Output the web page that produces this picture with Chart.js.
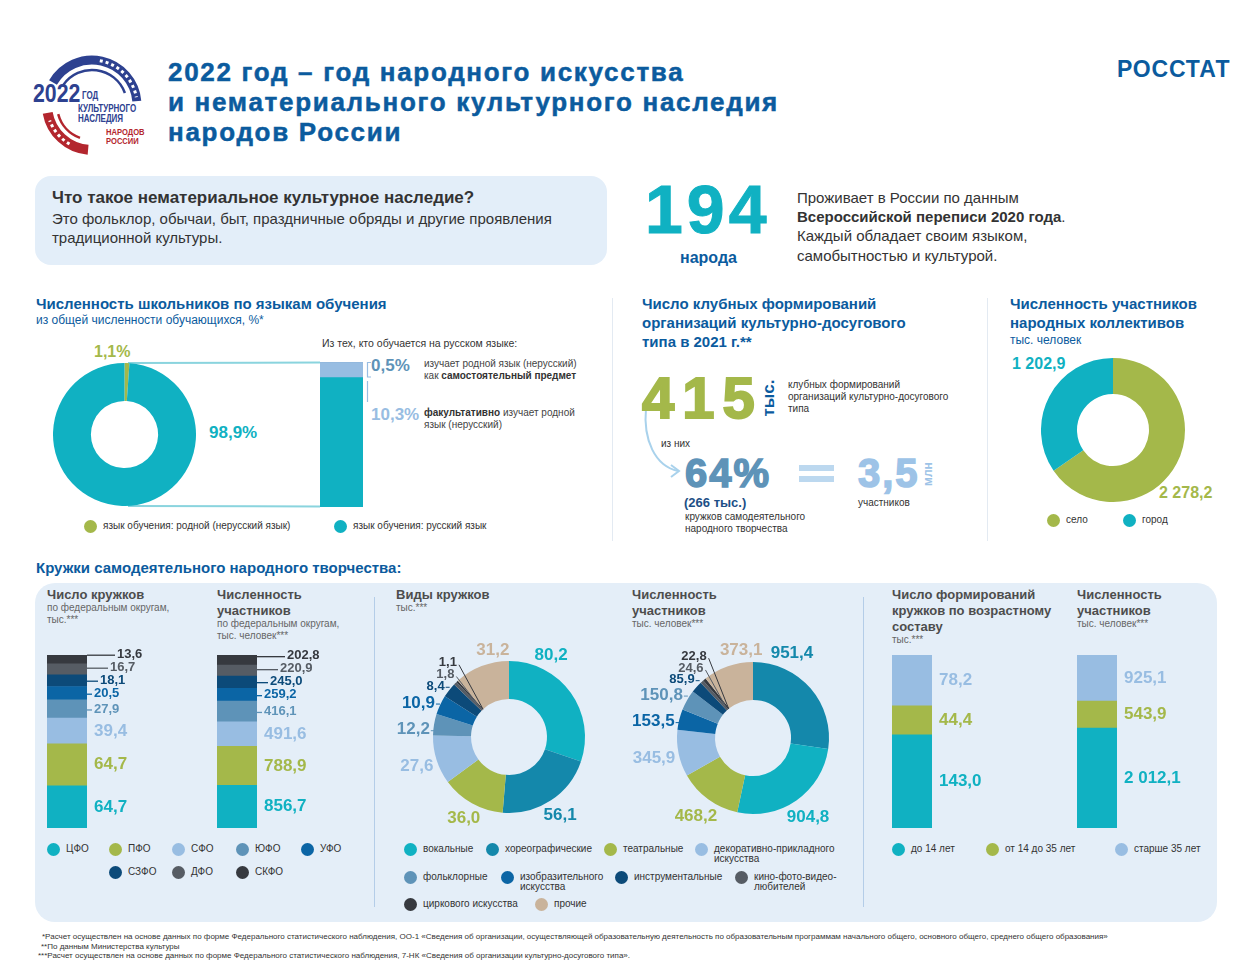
<!DOCTYPE html>
<html lang="ru">
<head>
<meta charset="UTF-8">
<title>2022 год – год народного искусства и нематериального культурного наследия</title>
<script src="https://cdn.jsdelivr.net/npm/chart.js"></script>
<style>
  body { margin: 0; background: #fff; }
  #page { position: relative; width: 1250px; height: 975px; overflow: hidden;
          font-family: "Liberation Sans", Arial, sans-serif; color: #333; }
  #page > div, #page > canvas, #page > svg { position: absolute; }
  #page > div { white-space: nowrap; }
  .h { font-weight: bold; color: #0b5b9e; font-size: 15px; line-height: 19px; }
  .sub { color: #0b5b9e; font-size: 12px; line-height: 16px; }
  .ph { font-weight: bold; color: #4d4d4d; font-size: 13px; line-height: 16px; }
  .pn { color: #666; font-size: 10px; line-height: 12px; }
  .sm { font-size: 10px; line-height: 12px; color: #444; }
  .dot { width: 13px; height: 13px; border-radius: 50%; }
  .lg { font-size: 10px; line-height: 10.5px; color: #333; }
  .num { font-weight: bold; }
  .fn { font-size: 8px; line-height: 9.5px; color: #333; }
  .logo { font-weight: bold; transform: scaleX(0.8); transform-origin: 0 0; }
</style>
</head>
<body>
<div id="page">

  <!-- фон нижней панели и блок-вопрос -->
  <div style="left:35px;top:176px;width:572px;height:89px;border-radius:16px;background:#e3eef9"></div>
  <div style="left:35px;top:583px;width:1182px;height:339px;border-radius:20px;background:#e4eef8"></div>

  <!-- разделители -->
  <div style="left:612px;top:298px;width:1px;height:243px;background:#e3eaf2"></div>
  <div style="left:987px;top:298px;width:1px;height:243px;background:#e3eaf2"></div>
  <div style="left:374px;top:597px;width:1px;height:310px;background:#b4cde8"></div>
  <div style="left:863px;top:597px;width:1px;height:310px;background:#b4cde8"></div>

  <svg width="1250" height="975" style="left:0;top:0">
    <!-- логотип -->
    <path d="M53 82.5 A45 45 0 0 1 136.8 101.1" fill="none" stroke="#2d4190" stroke-width="9"/>
    <path d="M99.8 60.7 A45 45 0 0 1 136.3 97.2" fill="none" stroke="#fff" stroke-width="3" stroke-dasharray="3 3"/>
    <path d="M63.3 84.9 A35 35 0 0 1 124.9 93" fill="none" stroke="#2d4190" stroke-width="2.5"/>
    <path d="M88.1 149.8 A45 45 0 0 1 47.7 112.8" fill="none" stroke="#b3262e" stroke-width="10"/>
    <path d="M69.5 144 A45 45 0 0 1 49.7 120.4" fill="none" stroke="#fff" stroke-width="3" stroke-dasharray="3 3"/>
    <path d="M80 137.9 A35 35 0 0 1 58.2 114.1" fill="none" stroke="#b3262e" stroke-width="2.5"/>
    <!-- связь круга и столбика -->
    <line x1="128" y1="363" x2="320" y2="362.5" stroke="#8ad4de" stroke-width="2"/>
    <line x1="128" y1="506" x2="320" y2="506.5" stroke="#8ad4de" stroke-width="2"/>
    <path d="M371 362.5 H367.5 V377 H371" fill="none" stroke="#98bde2" stroke-width="1.2"/>
    <path d="M367.5 381 V402" fill="none" stroke="#98bde2" stroke-width="1.2"/>
    <!-- стрелка "из них" -->
    <path d="M646 408 C 643 440, 655 466, 678 471" fill="none" stroke="#a9d2ec" stroke-width="2"/>
    <path d="M671 465 L679 471 L671 477" fill="none" stroke="#a9d2ec" stroke-width="2"/>
  </svg>

  <div style="left:799px;top:465px;width:35px;height:6px;background:#bcd8ef"></div>
  <div style="left:799px;top:476px;width:35px;height:6px;background:#bcd8ef"></div>

  <!-- логотип: текст -->
  <div class="logo" style="left:33px;top:81px;font-size:25px;line-height:24px;color:#2d4190;transform:scaleX(0.85)">2022</div>
  <div class="logo" style="left:82px;top:91px;font-size:10px;line-height:10px;color:#2d4190">ГОД</div>
  <div class="logo" style="left:78px;top:104px;font-size:10px;line-height:10px;color:#2d4190">КУЛЬТУРНОГО<br>НАСЛЕДИЯ</div>
  <div class="logo" style="left:106px;top:127px;font-size:9.5px;line-height:9px;color:#b3262e">НАРОДОВ<br>РОССИИ</div>

  <!-- заголовок -->
  <div style="left:168px;top:57px;font-size:26px;line-height:30px;font-weight:bold;letter-spacing:1.7px;color:#0b5b9e;-webkit-text-stroke:0.5px #0b5b9e">2022 год – год народного искусства<br>и нематериального культурного наследия<br>народов России</div>
  <div style="left:1117px;top:56px;font-size:23px;line-height:26px;font-weight:bold;letter-spacing:0.8px;color:#0b5b9e">РОССТАТ</div>

  <div style="left:52px;top:188px;font-size:17px;line-height:20px;font-weight:bold;color:#333">Что такое нематериальное культурное наследие?</div>
  <div style="left:52px;top:208.5px;font-size:15px;line-height:19.5px;color:#333">Это фольклор, обычаи, быт, праздничные обряды и другие проявления<br>традиционной культуры.</div>

  <div class="num" style="left:645px;top:184px;font-size:68px;line-height:50px;letter-spacing:4px;color:#10b1c2;-webkit-text-stroke:1px #10b1c2">194</div>
  <div class="num" style="left:645px;top:248.5px;width:127px;text-align:center;font-size:16px;line-height:18px;color:#0b5b9e">народа</div>
  <div style="left:797px;top:187.5px;font-size:15px;line-height:19.4px;color:#333">Проживает в России по данным<br><b>Всероссийской переписи 2020 года</b>.<br>Каждый обладает своим языком,<br>самобытностью и культурой.</div>

  <!-- школьники -->
  <div class="h" style="left:36px;top:294px">Численность школьников по языкам обучения</div>
  <div class="sub" style="left:36px;top:312px">из общей численности обучающихся, %*</div>
  <div style="left:322px;top:337px;font-size:10.5px;line-height:12px;color:#333">Из тех, кто обучается на русском языке:</div>
  <div id="lblNative" class="num" style="left:94px;top:342px;font-size:16px;line-height:20px;color:#a4b84a"></div>
  <div id="lblRussian" class="num" style="left:209px;top:423px;font-size:17px;line-height:20px;color:#10b1c2"></div>
  <div id="lblSubject" class="num" style="left:371px;top:356px;font-size:17px;line-height:20px;color:#5e93b8"></div>
  <div id="lblOptional" class="num" style="left:371px;top:405px;font-size:17px;line-height:20px;color:#98bde2"></div>
  <div class="sm" style="left:424px;top:358px">изучает родной язык (нерусский)<br>как <b style="color:#333">самостоятельный предмет</b></div>
  <div class="sm" style="left:424px;top:407px"><b style="color:#333">факультативно</b> изучает родной<br>язык (нерусский)</div>

  <!-- клубные формирования -->
  <div class="h" style="left:642px;top:293.5px">Число клубных формирований<br>организаций культурно-досугового<br>типа в 2021 г.**</div>
  <div class="num" style="left:642px;top:377px;font-size:58px;line-height:42px;letter-spacing:8px;color:#a4b84a;-webkit-text-stroke:2px #a4b84a">415</div>
  <div class="num" style="left:768px;top:398px;transform:translate(-50%,-50%) rotate(-90deg);font-size:17px;line-height:17px;color:#0b5b9e">тыс.</div>
  <div class="sm" style="left:788px;top:379px;color:#333">клубных формирований<br>организаций культурно-досугового<br>типа</div>
  <div class="sm" style="left:661px;top:438px;color:#333">из них</div>
  <div class="num" style="left:685px;top:458px;font-size:40px;line-height:30px;letter-spacing:2px;color:#5e93b8;-webkit-text-stroke:1.5px #5e93b8">64%</div>
  <div class="num" style="left:684px;top:496px;font-size:13px;line-height:14px;color:#1d4f86">(266 тыс.)</div>
  <div class="sm" style="left:685px;top:511px;color:#333">кружков самодеятельного<br>народного творчества</div>
  <div class="num" style="left:858px;top:458px;font-size:40px;line-height:30px;letter-spacing:2px;color:#9dc3e7;-webkit-text-stroke:1.5px #9dc3e7">3,5</div>
  <div class="num" style="left:928px;top:474px;transform:translate(-50%,-50%) rotate(-90deg);font-size:12px;line-height:12px;color:#9dc3e7">млн</div>
  <div class="sm" style="left:858px;top:497px;color:#333">участников</div>

  <!-- народные коллективы -->
  <div class="h" style="left:1010px;top:293.5px">Численность участников<br>народных коллективов</div>
  <div class="sub" style="left:1010px;top:332px">тыс. человек</div>
  <div id="lblCity" class="num" style="left:1012px;top:354px;font-size:16px;line-height:20px;color:#10b1c2"></div>
  <div id="lblVillage" class="num" style="left:1159px;top:483px;font-size:16px;line-height:20px;color:#a4b84a"></div>

  <!-- кружки -->
  <div class="h" style="left:36px;top:557.5px">Кружки самодеятельного народного творчества:</div>
  <div class="ph" style="left:47px;top:587px">Число кружков</div>
  <div class="pn" style="left:47px;top:602px">по федеральным округам,<br>тыс.***</div>
  <div class="ph" style="left:217px;top:587px">Численность<br>участников</div>
  <div class="pn" style="left:217px;top:618px">по федеральным округам,<br>тыс. человек***</div>
  <div class="ph" style="left:396px;top:587px">Виды кружков</div>
  <div class="pn" style="left:396px;top:602px">тыс.***</div>
  <div class="ph" style="left:632px;top:587px">Численность<br>участников</div>
  <div class="pn" style="left:632px;top:618px">тыс. человек***</div>
  <div class="ph" style="left:892px;top:587px">Число формирований<br>кружков по возрастному<br>составу</div>
  <div class="pn" style="left:892px;top:634px">тыс.***</div>
  <div class="ph" style="left:1077px;top:587px">Численность<br>участников</div>
  <div class="pn" style="left:1077px;top:618px">тыс. человек***</div>

  <canvas id="cSchool" width="143" height="143" style="left:53px;top:363px"></canvas>
  <canvas id="cRusBar" width="43" height="145" style="left:320px;top:362px"></canvas>
  <canvas id="cSettle" width="144" height="144" style="left:1041px;top:358px"></canvas>
  <canvas id="cDistClubs" width="140" height="190" style="left:47px;top:640px"></canvas>
  <canvas id="cDistMembers" width="140" height="190" style="left:217px;top:640px"></canvas>
  <canvas id="cTypeClubs" width="225" height="200" style="left:395px;top:630px"></canvas>
  <canvas id="cTypeMembers" width="250" height="200" style="left:620px;top:630px"></canvas>
  <canvas id="cAgeClubs" width="120" height="190" style="left:892px;top:640px"></canvas>
  <canvas id="cAgeMembers" width="130" height="190" style="left:1077px;top:640px"></canvas>

  <div class="fn" style="left:42px;top:932px">*Расчет осуществлен на основе данных по форме Федерального статистического наблюдения, ОО-1 «Сведения об организации, осуществляющей образовательную деятельность по образовательным программам начального общего, основного общего, среднего общего образования»</div>
  <div class="fn" style="left:41px;top:941.5px">**По данным Министерства культуры</div>
  <div class="fn" style="left:38px;top:951px">***Расчет осуществлен на основе данных по форме Федерального статистического наблюдения, 7-НК «Сведения об организации культурно-досугового типа».</div>
</div>

<script>
  // ---- данные ----
  const schoolLangLabels = ['язык обучения: родной (нерусский язык)', 'язык обучения: русский язык'];
  const schoolLangValues = [1.1, 98.9];
  // из обучающихся на русском: не изучают / факультативно / самостоятельный предмет
  const russianStudyValues = [89.2, 10.3, 0.5];

  const settlements = ['село', 'город'];
  const settlementMembers = [2278.2, 1202.9];

  const districts = ['ЦФО', 'ПФО', 'СФО', 'ЮФО', 'УФО', 'СЗФО', 'ДФО', 'СКФО'];
  const districtClubs = [64.7, 64.7, 39.4, 27.9, 20.5, 18.1, 16.7, 13.6];
  const districtMembers = [856.7, 788.9, 491.6, 416.1, 259.2, 245.0, 220.9, 202.8];

  const clubTypes = ['вокальные', 'хореографические', 'театральные', 'декоративно-прикладного искусства',
    'фольклорные', 'изобразительного искусства', 'инструментальные', 'кино-фото-видео-любителей',
    'циркового искусства', 'прочие'];
  const typeClubs = [80.2, 56.1, 36.0, 27.6, 12.2, 10.9, 8.4, 1.8, 1.1, 31.2];
  const typeMembers = [904.8, 951.4, 468.2, 345.9, 150.8, 153.5, 85.9, 24.6, 22.8, 373.1];

  const ageGroups = ['до 14 лет', 'от 14 до 35 лет', 'старше 35 лет'];
  const ageClubs = [143.0, 44.4, 78.2];
  const ageMembers = [2012.1, 543.9, 925.1];

  // ---- цвета ----
  const TEAL = '#10b1c2', GREEN = '#a4b84a', LIGHT = '#98bde2';
  const distColors = [TEAL, GREEN, LIGHT, '#5e93b8', '#0b65a5', '#0c4a79', '#565c64', '#36393f'];
  const typeColors = [TEAL, '#1488ab', GREEN, LIGHT, '#5e93b8', '#0b65a5', '#0c4a79', '#565c64', '#36393f', '#c9b39b'];
  const ageColors = [TEAL, GREEN, LIGHT];

  const FONT = '"Liberation Sans", Arial, sans-serif';
  const page = document.getElementById('page');

  function fmt(v) {
    const parts = v.toFixed(1).split('.');
    return parts[0].replace(/\B(?=(\d{3})+(?!\d))/g, ' ') + ',' + parts[1];
  }

  document.getElementById('lblNative').textContent = fmt(schoolLangValues[0]) + '%';
  document.getElementById('lblRussian').textContent = fmt(schoolLangValues[1]) + '%';
  document.getElementById('lblSubject').textContent = fmt(russianStudyValues[2]) + '%';
  document.getElementById('lblOptional').textContent = fmt(russianStudyValues[1]) + '%';
  document.getElementById('lblVillage').textContent = fmt(settlementMembers[0]);
  document.getElementById('lblCity').textContent = fmt(settlementMembers[1]);

  // подписи вокруг кольцевых диаграмм
  const donutLabels = {
    id: 'donutLabels',
    afterDatasetsDraw(chart, args, opts) {
      const ctx = chart.ctx;
      const ds = chart.data.datasets[0];
      const arcs = chart.getDatasetMeta(0).data;
      const total = ds.data.reduce((s, v) => s + v, 0);
      const last = arcs.length - 1;
      const items = arcs.map((arc, i) => {
        const p = arc.getProps(['x', 'y', 'startAngle', 'endAngle', 'outerRadius', 'innerRadius'], true);
        const share = ds.data[i] / total;
        let f = share < 0.05 ? 0.2 : 0.5;
        if (i === 0) f = opts.firstAt;
        if (i === last) f = opts.lastAt;
        const a = p.startAngle + f * (p.endAngle - p.startAngle);
        const mid = (p.startAngle + p.endAngle) / 2;
        const size = share > 0.035 ? 17 : 13;
        ctx.font = 'bold ' + size + 'px ' + FONT;
        const text = fmt(ds.data[i]);
        const w = ctx.measureText(text).width;
        const h = size * 0.75;
        const c = Math.cos(a), s = Math.sin(a);
        const d = p.outerRadius + 3 + Math.abs(c) * w / 2 + Math.abs(s) * h / 2;
        return { p, a, mid, share, size, text, w, h, x: p.x + c * d, y: p.y + s * d, color: ds.backgroundColor[i] };
      });
      // левая сторона: раздвигаем мелкие подписи вверх
      let prev = null;
      items.filter(it => Math.cos(it.a) < -0.3).sort((m, n) => m.a - n.a).forEach(it => {
        if (prev) it.y = Math.min(it.y, prev.y - (prev.h + it.h) / 2 - 2);
        prev = it;
      });
      items.forEach(it => {
        ctx.font = 'bold ' + it.size + 'px ' + FONT;
        ctx.fillStyle = it.color;
        ctx.strokeStyle = it.color;
        ctx.textAlign = 'center';
        ctx.textBaseline = 'middle';
        ctx.fillText(it.text, it.x, it.y);
        ctx.lineWidth = 1;
        if (it.share < 0.01) {
          ctx.beginPath();
          ctx.moveTo(it.x + it.w / 2 + 2, it.y + 2);
          ctx.lineTo(it.p.x + Math.cos(it.mid) * it.p.innerRadius, it.p.y + Math.sin(it.mid) * it.p.innerRadius);
          ctx.stroke();
        } else if (it.share < 0.05 && Math.cos(it.a) < -0.3) {
          ctx.beginPath();
          ctx.moveTo(it.x + it.w / 2 + 1, it.y + 1);
          ctx.lineTo(it.x + it.w / 2 + 5, it.y + 1);
          ctx.stroke();
        }
      });
    }
  };

  // подписи справа от столбиков
  const barLabels = {
    id: 'barLabels',
    afterDatasetsDraw(chart, args, opts) {
      const ctx = chart.ctx;
      let prevY = Infinity;
      chart.data.datasets.forEach((ds, i) => {
        const bar = chart.getDatasetMeta(i).data[0];
        const { x, y, base, width } = bar.getProps(['x', 'y', 'base', 'width'], true);
        const size = base - y > 22 ? 17 : 13;
        const ly = Math.min((y + base) / 2, prevY - 13);
        prevY = ly;
        const lead = (opts.leaders || [])[i] || 0;
        const right = x + width / 2;
        ctx.strokeStyle = ds.backgroundColor;
        ctx.fillStyle = ds.backgroundColor;
        if (lead) {
          ctx.lineWidth = 1.3;
          ctx.beginPath();
          ctx.moveTo(right, ly + 1);
          ctx.lineTo(right + lead, ly + 1);
          ctx.stroke();
        }
        ctx.font = 'bold ' + size + 'px ' + FONT;
        ctx.textAlign = 'left';
        ctx.textBaseline = 'middle';
        ctx.fillText(fmt(ds.data[0]), right + lead + (lead ? 2 : 7), ly);
      });
    }
  };

  Chart.register(donutLabels, barLabels);
  Chart.defaults.font.family = FONT;
  Chart.defaults.animation = false;
  Chart.defaults.responsive = false;
  Chart.defaults.events = [];
  Chart.defaults.plugins.legend.display = false;
  Chart.defaults.plugins.tooltip.enabled = false;

  function donut(id, values, colors, cutout, padding, labels) {
    return new Chart(document.getElementById(id), {
      type: 'doughnut',
      data: { labels: values.map(String), datasets: [{ data: values, backgroundColor: colors, borderWidth: 0 }] },
      options: {
        cutout: cutout,
        layout: { padding: padding },
        plugins: { donutLabels: labels || false, barLabels: false }
      }
    });
  }

  function stack(id, values, colors, padding, labels) {
    return new Chart(document.getElementById(id), {
      type: 'bar',
      data: {
        labels: [''],
        datasets: values.map((v, i) => ({
          data: [v], backgroundColor: colors[i], borderWidth: 0,
          barPercentage: 1, categoryPercentage: 1
        }))
      },
      options: {
        layout: { padding: padding },
        scales: {
          x: { stacked: true, display: false },
          y: { stacked: true, display: false, min: 0, max: values.reduce((s, v) => s + v, 0) }
        },
        plugins: { barLabels: labels || false, donutLabels: false }
      }
    });
  }

  // по убыванию, "прочие" в конце
  function typeOrder(values) {
    const other = clubTypes.indexOf('прочие');
    const idx = values.map((v, i) => i).filter(i => i !== other);
    idx.sort((a, b) => values[b] - values[a]);
    idx.push(other);
    return idx;
  }

  donut('cSchool', schoolLangValues, [GREEN, TEAL], '47%', 0);
  stack('cRusBar', russianStudyValues, [TEAL, LIGHT, '#8fb3d8'], 0);
  donut('cSettle', settlementMembers, [GREEN, TEAL], '50%', 0);

  const leaders = [0, 0, 0, 5, 5, 11, 21, 28];
  stack('cDistClubs', districtClubs, distColors, { top: 15, bottom: 2, left: 0, right: 100 }, { leaders });
  stack('cDistMembers', districtMembers, distColors, { top: 15, bottom: 2, left: 0, right: 100 }, { leaders });

  const o1 = typeOrder(typeClubs), o2 = typeOrder(typeMembers);
  donut('cTypeClubs', o1.map(i => typeClubs[i]), o1.map(i => typeColors[i]), '50%',
    { left: 38, right: 35, top: 31, bottom: 17 }, { firstAt: 0.25, lastAt: 0.75 });
  donut('cTypeMembers', o2.map(i => typeMembers[i]), o2.map(i => typeColors[i]), '50%',
    { left: 57, right: 41, top: 32, bottom: 16 }, { firstAt: 0.25, lastAt: 0.8 });

  stack('cAgeClubs', ageClubs, ageColors, { top: 15, bottom: 2, left: 0, right: 80 }, { leaders: [] });
  stack('cAgeMembers', ageMembers, ageColors, { top: 15, bottom: 2, left: 0, right: 90 }, { leaders: [] });

  // ---- легенды ----
  function legend(labels, colors, at) {
    labels.forEach((text, i) => {
      const [x, y, w] = at[i];
      const dot = document.createElement('div');
      dot.className = 'dot';
      dot.style.left = (x - 6.5) + 'px';
      dot.style.top = (y - 6.5) + 'px';
      dot.style.background = colors[i];
      const t = document.createElement('div');
      t.className = 'lg';
      t.style.left = (x + 13) + 'px';
      t.style.top = (y - 5.5) + 'px';
      if (w) { t.style.width = w + 'px'; t.style.whiteSpace = 'normal'; }
      t.textContent = text;
      page.append(dot, t);
    });
  }

  legend(schoolLangLabels, [GREEN, TEAL], [[90, 526], [340, 526]]);
  legend(settlements, [GREEN, TEAL], [[1053, 520], [1129, 520]]);
  legend(districts, distColors, [[53, 849], [115, 849], [178, 849], [242, 849], [307, 849],
    [115, 872], [178, 872], [242, 872]]);
  legend(clubTypes, typeColors, [[410, 849], [492, 849], [610, 849], [701, 849, 135], [410, 877],
    [507, 877, 95], [621, 877], [741, 877, 95], [410, 904], [541, 904]]);
  legend(ageGroups, ageColors, [[898, 849], [992, 849], [1121, 849]]);
</script>
</body>
</html>
